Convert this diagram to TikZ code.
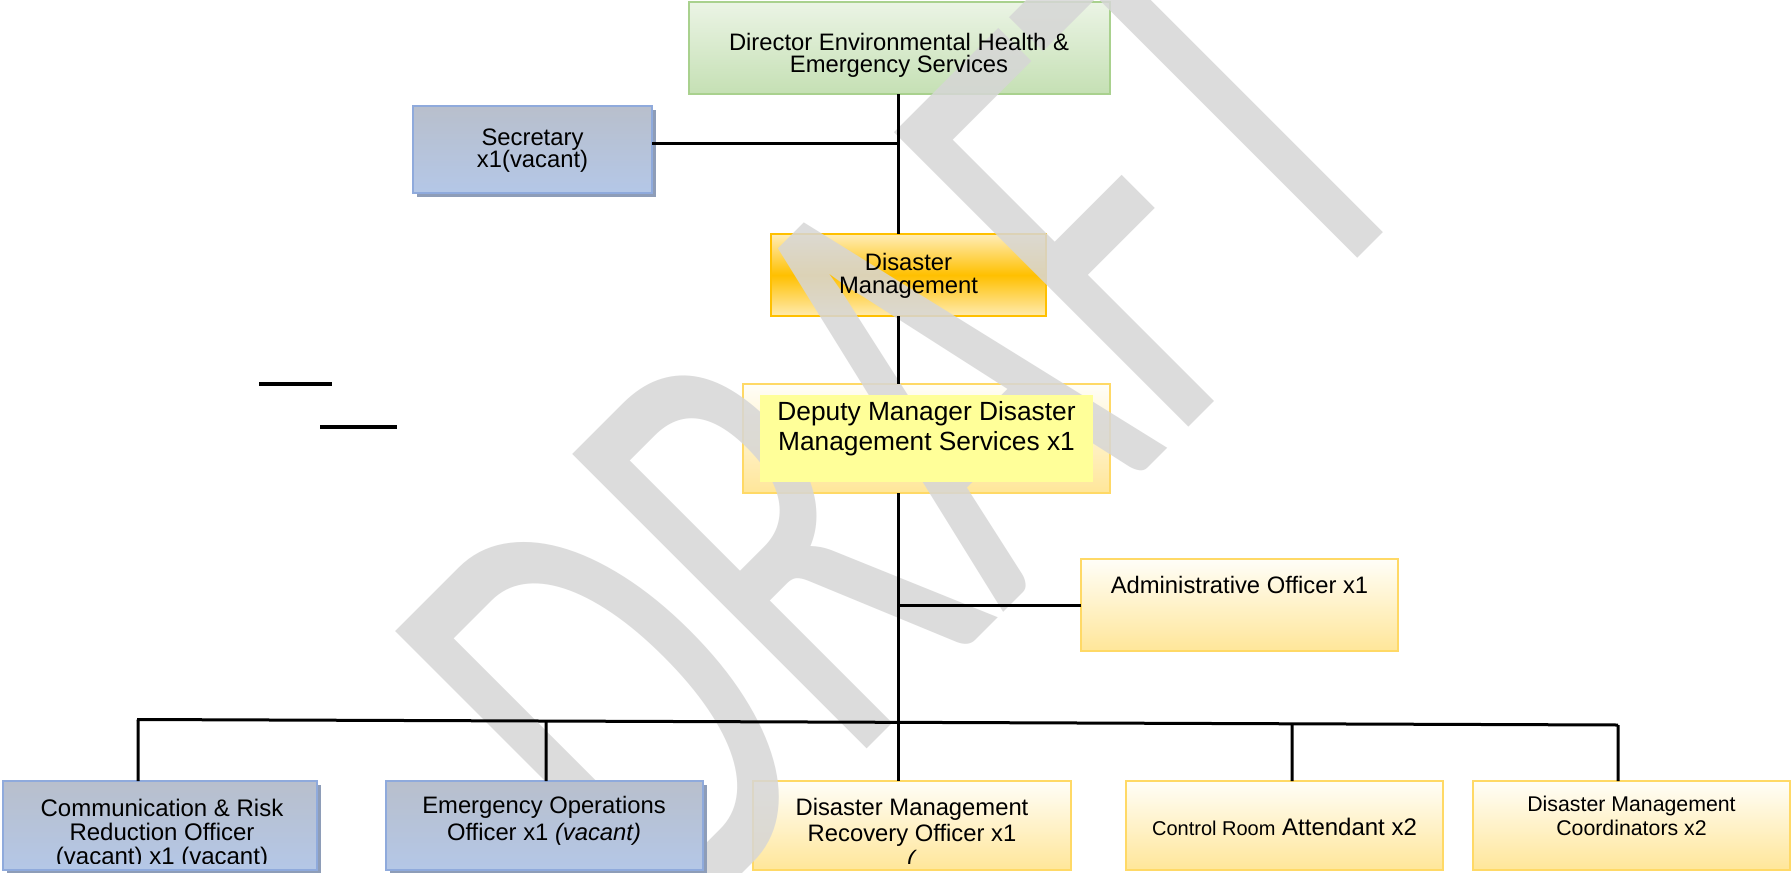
\documentclass[tikz,border=0pt]{standalone}
\usepackage{fontspec}
\setmainfont{Liberation Sans}
\newfontfamily\wmfont{Carlito}
\usetikzlibrary{calc,shadows}
\pgfdeclarelayer{bg}
\pgfdeclarelayer{wm}
\pgfdeclarelayer{fg}
\pgfsetlayers{bg,wm,fg,main}
\definecolor{dirT}{HTML}{EBF4E5}
\definecolor{dirBo}{HTML}{C5E0B4}
\definecolor{dirB}{HTML}{A9D18E}
\definecolor{blueT}{HTML}{B8BFCC}
\definecolor{blueBo}{HTML}{B4C7E7}
\definecolor{blueB}{HTML}{8FAADC}
\definecolor{blueS}{HTML}{8E9DB8}
\definecolor{orT}{HTML}{FFEDB8}
\definecolor{orM}{HTML}{FFC000}
\definecolor{orBo}{HTML}{FFEBB0}
\definecolor{orB}{HTML}{FFC000}
\definecolor{ylT}{HTML}{FFFEF8}
\definecolor{ylBo}{HTML}{FFE699}
\definecolor{ylB}{HTML}{FFD966}
\definecolor{depIn}{HTML}{FFFF99}
\definecolor{wmC}{HTML}{D6D6D6}
\begin{document}
\begin{tikzpicture}[x=1pt,y=-1pt,
  box/.style={line width=1.8pt, inner sep=0pt, outer sep=0pt},
  greenbox/.style={box, draw=dirB, top color=dirT, bottom color=dirBo},
  bluebox/.style={box, line width=1.5pt, draw=blueB, top color=blueT, bottom color=blueBo,
     drop shadow={shadow xshift=4pt, shadow yshift=-4pt, fill=blueS, opacity=1}},
  orbox/.style={box, draw=orB, top color=orT, bottom color=orBo, middle color=orM},
  ylbox/.style={box, draw=ylB, top color=ylT, bottom color=ylBo},
  txt/.style={inner sep=0pt, align=center, anchor=north},
  conn/.style={line width=3pt, black},
  stray/.style={line width=4pt, black},
]
\useasboundingbox (0,0) rectangle (1792,873);

\begin{pgfonlayer}{bg}
\fill[white] (0,0) rectangle (1792,873);
\node[greenbox, minimum width=421pt, minimum height=92pt] (dir) at (899.5,48) {};
\node[orbox, minimum width=275pt, minimum height=82pt] (dm) at (908.5,275) {};
\node[ylbox, minimum width=367pt, minimum height=109pt] (dep) at (926.5,438.5) {};
\node[ylbox, minimum width=317pt, minimum height=92pt] (adm) at (1239.5,605) {};
\node[ylbox, minimum width=318pt, minimum height=89pt] (c3) at (912,825.5) {};
\node[ylbox, minimum width=317pt, minimum height=89pt] (c4) at (1284.5,825.5) {};
\node[ylbox, minimum width=317pt, minimum height=89pt] (c5) at (1631.5,825.5) {};
\end{pgfonlayer}

\begin{pgfonlayer}{wm}
\begin{scope}
\clip (0,0) rectangle (1792,873);
\node[font=\wmfont\fontsize{649}{649}\selectfont, text=wmC, text opacity=0.85,
      inner sep=0pt, anchor=base west, rotate=45, xscale=0.626] (wmk) at (670,946) {DRAFT};
\end{scope}
\end{pgfonlayer}

\begin{pgfonlayer}{fg}
\node[bluebox, minimum width=239pt, minimum height=87pt] (sec) at (532.5,149.5) {};
\node[bluebox, minimum width=314pt, minimum height=89pt] (c1) at (160,825.5) {};
\node[bluebox, minimum width=317pt, minimum height=89pt] (c2) at (544.5,825.5) {};
% inner yellow area of deputy box
\node[fill=depIn, inner sep=0pt, minimum width=333pt, minimum height=87pt] (depin) at (926.5,438.5) {};
\end{pgfonlayer}

% texts
\node[txt, font=\fontsize{23.8}{22.7}\selectfont] (tdir) at (899,26.2)
  {\rule{0pt}{23.8pt}Director Environmental Health \&\\Emergency Services};
\node[txt, font=\fontsize{23.8}{22.5}\selectfont] (tsec) at (532.5,121.2)
  {\rule{0pt}{23.8pt}Secretary\\x1(vacant)};
\node[txt, font=\fontsize{23.8}{23.5}\selectfont] (tdm) at (908.5,246.2)
  {\rule{0pt}{23.8pt}Disaster\\Management};
\node[txt, font=\fontsize{26.3}{30}\selectfont] (tdep) at (926.5,393.7)
  {\rule{0pt}{26.3pt}Deputy Manager Disaster\\Management Services x1};
\node[txt, font=\fontsize{23.8}{24}\selectfont] (tadm) at (1239.5,569.2)
  {\rule{0pt}{23.8pt}Administrative Officer x1};
\begin{scope}
\clip (0,0) rectangle (1792,863);
\node[txt, font=\fontsize{24}{24}\selectfont] (tc1) at (162,792)
  {\rule{0pt}{24pt}Communication \& Risk\\Reduction Officer\\(vacant) x1 (vacant)};
\node[txt, font=\fontsize{23.8}{27}\selectfont] (tc2) at (544,789.2)
  {\rule{0pt}{23.8pt}Emergency Operations\\Officer x1 \textit{(vacant)}};
\node[txt, font=\fontsize{23.8}{26}\selectfont] (tc3) at (912,791.2)
  {\rule{0pt}{23.8pt}Disaster Management\\Recovery Officer x1\\\textit{(}};
\node[txt, font=\fontsize{24}{24}\selectfont] (tc4) at (1284.5,811)
  {\rule{0pt}{24pt}{\fontsize{20}{22}\selectfont Control Room} Attendant x2};
\node[txt, font=\fontsize{21.3}{24}\selectfont] (tc5) at (1631.5,789.7)
  {\rule{0pt}{21.3pt}Disaster Management\\Coordinators x2};
\end{scope}

% connectors
\coordinate (tx) at (898,0);
\coordinate (secj) at (898,143);
\coordinate (bl) at (137,719.5);
\coordinate (br) at (1618,725);
\coordinate (d1) at (138,0);
\coordinate (d2) at (546,0);
\coordinate (d4) at (1292,0);
\coordinate (d5) at (1618,0);
\draw[conn] (dir.south -| tx) -- (dm.north -| tx);
\draw[conn] (dm.south -| tx) -- (dep.north -| tx);
\draw[conn] (dep.south -| tx) -- (c3.north -| tx);
\draw[conn] (sec.east |- secj) -- (secj);
\draw[conn] (adm.west) -- (adm.west -| tx);
\draw[conn] (bl) -- (br);
\draw[conn] (c1.north -| d1) -- ($(bl)!(c1.north -| d1)!(br)$);
\draw[conn] (c2.north -| d2) -- ($(bl)!(c2.north -| d2)!(br)$);
\draw[conn] (c4.north -| d4) -- ($(bl)!(c4.north -| d4)!(br)$);
\draw[conn] (c5.north -| d5) -- ($(bl)!(c5.north -| d5)!(br)$);

% stray short lines
\coordinate (s1a) at (259,384);
\coordinate (s1b) at (332,384);
\coordinate (s2a) at (320,427);
\coordinate (s2b) at (397,427);
\draw[stray] (s1a) -- (s1b);
\draw[stray] (s2a) -- (s2b);
\end{tikzpicture}
\end{document}
